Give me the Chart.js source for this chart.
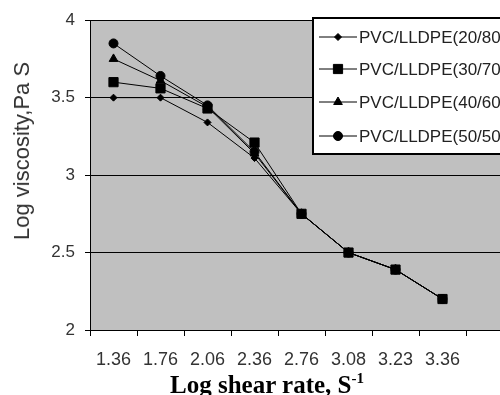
<!DOCTYPE html>
<html>
<head>
<meta charset="utf-8">
<script src="https://cdn.jsdelivr.net/npm/chart.js@4.4.1/dist/chart.umd.min.js"></script>
<style>
  html, body { margin: 0; padding: 0; background: #fff; }
  #wrap { position: relative; width: 500px; height: 395px; overflow: hidden; }
  #chart { position: absolute; left: 0; top: 0; }
  #ytitle {
    position: absolute; left: 22px; top: 151px;
    transform: translate(-50%, -50%) rotate(-90deg);
    white-space: nowrap; font: 22px 'Liberation Sans', Arial, sans-serif; color: #333;
  }
  #xtitle {
    position: absolute; left: 0; width: 534px; top: 372px; text-align: center;
    font: bold 25px 'Liberation Serif', 'Times New Roman', serif; line-height: 25px;
    color: #000; white-space: nowrap;
  }
  #xtitle sup { font-size: 60%; line-height: 0; vertical-align: 0; position: relative; top: -0.7em; }
</style>
</head>
<body>
<div id="wrap">
  <canvas id="chart" width="530" height="395"></canvas>
  <div id="ytitle">Log viscosity,Pa S</div>
  <div id="xtitle">Log shear rate, S<sup>-1</sup></div>
</div>
<script>
// log shear rate categories (last one is an empty slot, cut off in the picture)
const categories = ['1.36', '1.76', '2.06', '2.36', '2.76', '3.08', '3.23', '3.36', ''];

const labels = ['PVC/LLDPE(20/80)', 'PVC/LLDPE(30/70)', 'PVC/LLDPE(40/60)', 'PVC/LLDPE(50/50)'];

// log viscosity values
const pvc2080 = [3.50, 3.50, 3.34, 3.11, 2.75, 2.50, 2.39, 2.20];
const pvc3070 = [3.60, 3.56, 3.43, 3.21, 2.75, 2.50, 2.39, 2.20];
const pvc4060 = [3.75, 3.61, 3.44, 3.14, 2.75, 2.50, 2.39, 2.20];
const pvc5050 = [3.85, 3.64, 3.45, 3.15, 2.75, 2.50, 2.39, 2.20];

const yTicks = [2, 2.5, 3, 3.5, 4];

const markers = [
  { style: 'rectRot', radius: 3.5 },
  { style: 'rect', radius: 6.5 },
  { style: 'triangle', radius: 5 },
  { style: 'circle', radius: 4.5 }
];

const plotBg = {
  id: 'plotBg',
  beforeDraw(chart) {
    const { ctx, chartArea: a } = chart;
    ctx.save();
    ctx.fillStyle = '#c0c0c0';
    ctx.fillRect(a.left, a.top, a.right - a.left, a.bottom - a.top);
    ctx.restore();
  }
};

// legend box sitting inside the plot, top right
const legendBox = {
  id: 'legendBox',
  afterDraw(chart) {
    const ctx = chart.ctx;
    const x = 312, y = 17, w = 216, h = 138;
    ctx.save();
    ctx.fillStyle = '#fff';
    ctx.fillRect(x, y, w, h);
    ctx.strokeStyle = '#000';
    ctx.lineWidth = 2;
    ctx.strokeRect(x + 1, y + 1, w - 2, h - 2);
    ctx.font = '17px "Liberation Sans", Arial, sans-serif';
    ctx.textBaseline = 'middle';
    const rows = [37, 69, 102, 136];
    chart.data.datasets.forEach((ds, i) => {
      const ry = rows[i];
      ctx.strokeStyle = '#000';
      ctx.lineWidth = 1;
      ctx.beginPath();
      ctx.moveTo(319, ry);
      ctx.lineTo(357, ry);
      ctx.stroke();
      ctx.fillStyle = '#000';
      if (Chart.helpers && Chart.helpers.drawPoint) {
        Chart.helpers.drawPoint(ctx, {
          pointStyle: markers[i].style, radius: markers[i].radius, rotation: 0, borderWidth: 1
        }, 338, ry);
      }
      ctx.fillStyle = '#222';
      ctx.fillText(ds.label, 359, ry + 1);
    });
    ctx.restore();
  }
};

const series = [pvc2080, pvc3070, pvc4060, pvc5050];

new Chart(document.getElementById('chart'), {
  type: 'line',
  data: {
    labels: categories,
    datasets: series.map((values, i) => ({
      label: labels[i],
      data: values,
      borderColor: '#000',
      backgroundColor: '#000',
      borderWidth: 1,
      pointStyle: markers[i].style,
      pointRadius: markers[i].radius,
      pointBorderWidth: 1,
      tension: 0,
      fill: false
    }))
  },
  options: {
    responsive: false,
    animation: false,
    layout: { padding: { top: 19, right: 17, left: 0, bottom: 0 } },
    plugins: {
      legend: { display: false },
      tooltip: { enabled: false }
    },
    scales: {
      x: {
        type: 'category',
        offset: true,
        afterFit(scale) { scale.height = 65; },
        grid: { offset: true, drawOnChartArea: false, drawTicks: true, tickLength: 6, color: '#000' },
        border: { color: '#000', width: 1 },
        ticks: {
          color: '#333', padding: 13, maxRotation: 0, autoSkip: false,
          font: { family: "'Liberation Sans', Arial, sans-serif", size: 18 }
        }
      },
      y: {
        min: 2, max: 4,
        afterFit(scale) { scale.width = 90; },
        afterBuildTicks(scale) { scale.ticks = yTicks.map(v => ({ value: v })); },
        grid: { color: '#000', lineWidth: 1, drawTicks: true, tickLength: 5 },
        border: { color: '#000', width: 1 },
        ticks: {
          color: '#333', padding: 10,
          callback: v => String(v),
          font: { family: "'Liberation Sans', Arial, sans-serif", size: 17 }
        }
      }
    }
  },
  plugins: [plotBg, legendBox]
});
</script>
</body>
</html>
